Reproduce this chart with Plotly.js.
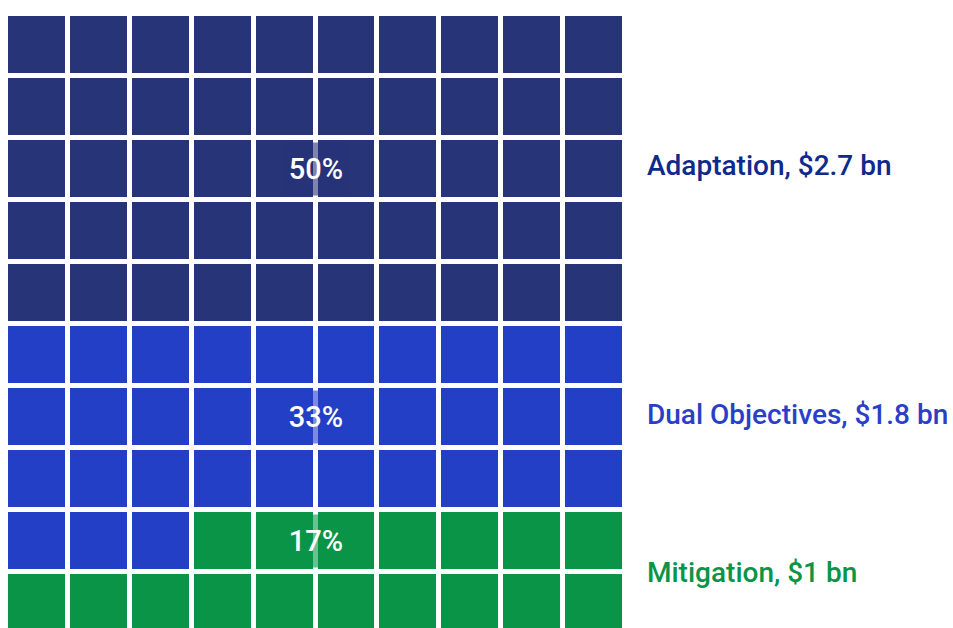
<!DOCTYPE html>
<html>
<head>
<meta charset="utf-8">
<script src="https://cdn.plot.ly/plotly-3.0.1.min.js"></script>
<style>html,body{margin:0;padding:0;background:#fff;}#chart{width:953px;height:628px;}</style>
</head>
<body>
<div id="chart"></div>
<script>
// Data
const categories = ["Adaptation", "Dual Objectives", "Mitigation"];
const amounts = ["$2.7 bn", "$1.8 bn", "$1 bn"];
const cellCounts = [50, 33, 17];
const percentLabels = ["50%", "33%", "17%"];
const cellColors = ["#273478", "#233FC6", "#0A9447"];
const textColors = ["#0D2A8C", "#2A3FC8", "#0A9447"];
const labelRows = [1.94, 5.96, 8.52];
const pctRows = [2, 6, 8];

const N = 10;
// Build waffle grid row-wise from counts
const seq = [];
cellCounts.forEach((c, i) => { for (let k = 0; k < c; k++) seq.push(i); });
const z = [];
for (let r = 0; r < N; r++) {
  const row = [];
  for (let c = 0; c < N; c++) row.push(seq[r * N + c]);
  z.push(row);
}
const xs = [...Array(N).keys()];
const ys = [...Array(N).keys()];

const cs = [
  [0, cellColors[0]], [1/3, cellColors[0]],
  [1/3, cellColors[1]], [2/3, cellColors[1]],
  [2/3, cellColors[2]], [1, cellColors[2]]
];

const trace = {
  type: "heatmap", x: xs, y: ys, z: z,
  zmin: -0.5, zmax: 2.5,
  colorscale: cs, showscale: false,
  xgap: 5, ygap: 5, hoverinfo: "skip"
};

function hexA(h, a) {
  const r = parseInt(h.slice(1,3),16), g = parseInt(h.slice(3,5),16), b = parseInt(h.slice(5,7),16);
  return `rgba(${r},${g},${b},${a})`;
}

const FONT = "Roboto, 'DejaVu Sans', sans-serif";
const annotations = [];
categories.forEach((cat, i) => {
  annotations.push({
    x: 1.033, y: labelRows[i], xref: "paper", yref: "y",
    text: `${cat}, ${amounts[i]}`, showarrow: false,
    xanchor: "left", yanchor: "middle",
    font: {family: FONT, size: 28, color: textColors[i], weight: 500}
  });
  annotations.push({
    x: 4.5, y: pctRows[i], xref: "x", yref: "y",
    text: percentLabels[i], showarrow: false,
    xanchor: "center", yanchor: "middle",
    width: 60, height: 52, borderpad: 0,
    bgcolor: hexA(cellColors[i], 0.6),
    font: {family: FONT, size: 29, color: "#ffffff", weight: 500}
  });
});

const layout = {
  width: 953, height: 628,
  margin: {l: 5.5, r: 327.5, t: 13.5, b: 0, pad: 0},
  paper_bgcolor: "#ffffff", plot_bgcolor: "#ffffff",
  xaxis: {range: [-0.5, 9.5], visible: false, fixedrange: true},
  yaxis: {range: [9.411, -0.5], visible: false, fixedrange: true},
  showlegend: false,
  annotations: annotations
};

Plotly.newPlot("chart", [trace], layout, {displayModeBar: false, staticPlot: true});
</script>
</body>
</html>
